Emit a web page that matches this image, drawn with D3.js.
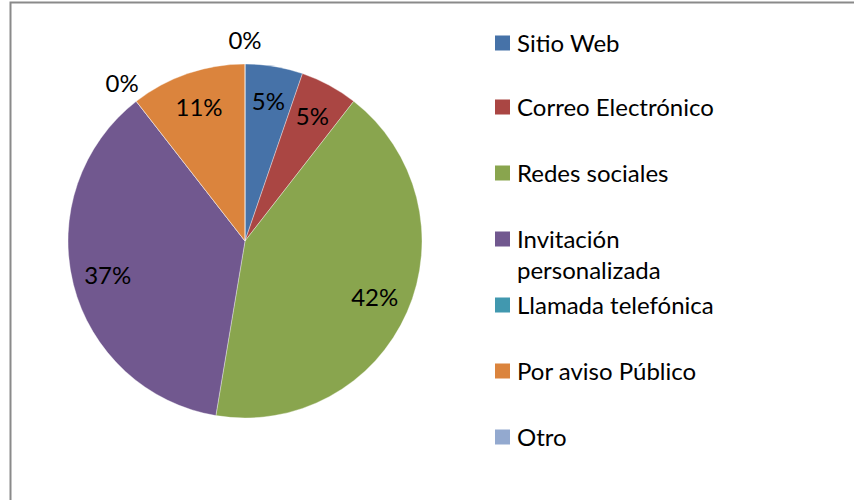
<!DOCTYPE html>
<html><head><meta charset="utf-8">
<script src="https://cdn.jsdelivr.net/npm/d3@7"></script>
<style>body{margin:0;background:#fff}svg{display:block}</style>
</head><body>
<svg id="c" width="854" height="500"></svg>
<script>
const categories = ["Sitio Web","Correo Electrónico","Redes sociales","Invitación personalizada","Llamada telefónica","Por aviso Público","Otro"];
const values = [1,1,8,7,0,2,0];
const legendLines = [["Sitio Web"],["Correo Electrónico"],["Redes sociales"],["Invitación","personalizada"],["Llamada telefónica"],["Por aviso Público"],["Otro"]];
const colors = ["#4672A8","#AA4643","#89A54E","#71588F","#4198AF","#DB843D","#93A9CF"];

const svg = d3.select("#c");
const font = "Lato, 'Open Sans', sans-serif";
const fs = 24;

svg.append("path").attr("d","M10.5,500 V2.5 H854").attr("fill","none").attr("stroke","#8a8a8a").attr("stroke-width",2);

const cx = 245, cy = 241, r = 177;
const total = d3.sum(values);
const pie = d3.pie().value(d=>d).sort(null);
const arcs = pie(values);
const arc = d3.arc().innerRadius(0).outerRadius(r);
const g = svg.append("g").attr("transform",`translate(${cx},${cy})`);
g.selectAll("path.s").data(arcs).join("path").attr("class","s")
  .attr("d",arc).attr("fill",(d,i)=>colors[i]).attr("stroke","#ffffff").attr("stroke-width",0.6).attr("stroke-opacity",0.6);

const inLab = d3.arc().innerRadius(r*0.8).outerRadius(r*0.8);
const outLab = d3.arc().innerRadius(r*1.13).outerRadius(r*1.13);
g.selectAll("text.l").data(arcs).join("text").attr("class","l")
  .attr("transform",d=>{const c=(d.data>0?inLab:outLab).centroid(d);return `translate(${c[0]},${c[1]})`;})
  .attr("text-anchor","middle").attr("dominant-baseline","central").attr("dy",-1)
  .attr("font-family",font).attr("font-size",fs).attr("fill","#000")
  .text(d=>Math.round(d.data/total*100)+"%");

const legY = [43,107,173,239,305,371,437];
const lg = svg.append("g");
categories.forEach((c,i)=>{
  const y = legY[i];
  lg.append("rect").attr("x",495).attr("y",y-7.5).attr("width",15).attr("height",15).attr("fill",colors[i]);
  legendLines[i].forEach((t,j)=>{
    lg.append("text").attr("x",517).attr("y",y+j*31).attr("dy",-1).attr("dominant-baseline","central")
      .attr("font-family",font).attr("font-size",fs).attr("fill","#000").text(t);
  });
});
</script>
</body></html>
